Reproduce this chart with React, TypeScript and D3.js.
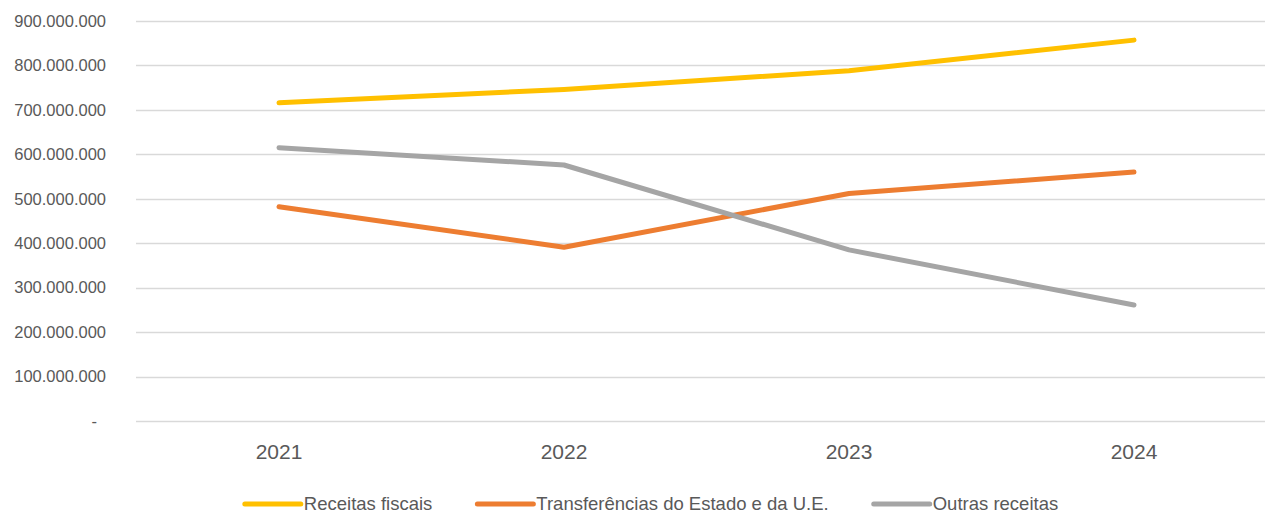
import React, { useEffect, useRef } from "react";
import * as d3 from "d3";

const years = ["2021", "2022", "2023", "2024"];
const receitasFiscais = [716000000, 746000000, 788000000, 857000000];
const transferencias = [482000000, 391000000, 512000000, 560000000];
const outrasReceitas = [615000000, 576000000, 385000000, 261000000];
const yTicks = [0, 100000000, 200000000, 300000000, 400000000, 500000000, 600000000, 700000000, 800000000, 900000000];
const seriesNames = ["Receitas fiscais", "Transferências do Estado e da U.E.", "Outras receitas"];
const seriesColors = ["#FFC000", "#ED7D31", "#A5A5A5"];

const W = 1265;
const H = 513;

export default function App() {
  const ref = useRef<SVGSVGElement>(null);
  useEffect(() => {
    const svg = d3.select(ref.current);
    svg.selectAll("*").remove();
    const font = "'Liberation Sans', Arial, sans-serif";
    const x = d3.scaleBand().domain(years).range([136.5, 1276.5]);
    const y = d3.scaleLinear().domain([0, 900000000]).range([421, 21]);
    const fmt = (v: number) => (v === 0 ? "-" : d3.format(",")(v).replace(/,/g, "."));

    const grid = svg.append("g");
    grid.selectAll("line").data(yTicks).join("line")
      .attr("x1", 136).attr("x2", W)
      .attr("y1", (d) => Math.round(y(d)) + 0.5).attr("y2", (d) => Math.round(y(d)) + 0.5)
      .attr("stroke", "#D9D9D9").attr("stroke-width", 1.5);

    svg.append("g").selectAll("text").data(yTicks).join("text")
      .attr("x", (d) => (d === 0 ? 97 : 106)).attr("y", (d) => y(d))
      .attr("dy", "0.35em").attr("text-anchor", "end")
      .attr("font-family", font).attr("font-size", 16.5).attr("fill", "#595959")
      .text((d) => fmt(d));

    svg.append("g").selectAll("text").data(years).join("text")
      .attr("x", (d) => (x(d) as number) + x.bandwidth() / 2).attr("y", 459)
      .attr("text-anchor", "middle")
      .attr("font-family", font).attr("font-size", 21).attr("fill", "#595959")
      .text((d) => d);

    const data = [receitasFiscais, transferencias, outrasReceitas];
    const line = d3.line<number>()
      .x((_, i) => (x(years[i]) as number) + x.bandwidth() / 2)
      .y((d) => y(d));
    data.forEach((vals, k) => {
      svg.append("path").attr("d", line(vals) as string)
        .attr("fill", "none").attr("stroke", seriesColors[k])
        .attr("stroke-width", 5).attr("stroke-linecap", "round").attr("stroke-linejoin", "round");
    });

    const leg = svg.append("g");
    const items: { g: any; w: number }[] = [];
    seriesNames.forEach((name, k) => {
      const g = leg.append("g");
      g.append("line").attr("x1", 0).attr("x2", 56).attr("y1", 0).attr("y2", 0)
        .attr("stroke", seriesColors[k]).attr("stroke-width", 5).attr("stroke-linecap", "round");
      const t = g.append("text").attr("x", 59).attr("y", 0).attr("dy", "0.35em")
        .attr("font-family", font).attr("font-size", 18.5).attr("fill", "#595959").text(name);
      const tw = (t.node() as SVGTextElement).getComputedTextLength();
      items.push({ g, w: 59 + tw });
    });
    const gap = 45;
    const total = items.reduce((s, it) => s + it.w, 0) + gap * (items.length - 1);
    let cx = 651.5 - total / 2;
    items.forEach((it) => {
      it.g.attr("transform", `translate(${cx},504)`);
      cx += it.w + gap;
    });
  }, []);
  return (
    <svg ref={ref} width={W} height={H}
      style={{ position: "absolute", left: 0, top: 0, background: "#fff" }} />
  );
}
